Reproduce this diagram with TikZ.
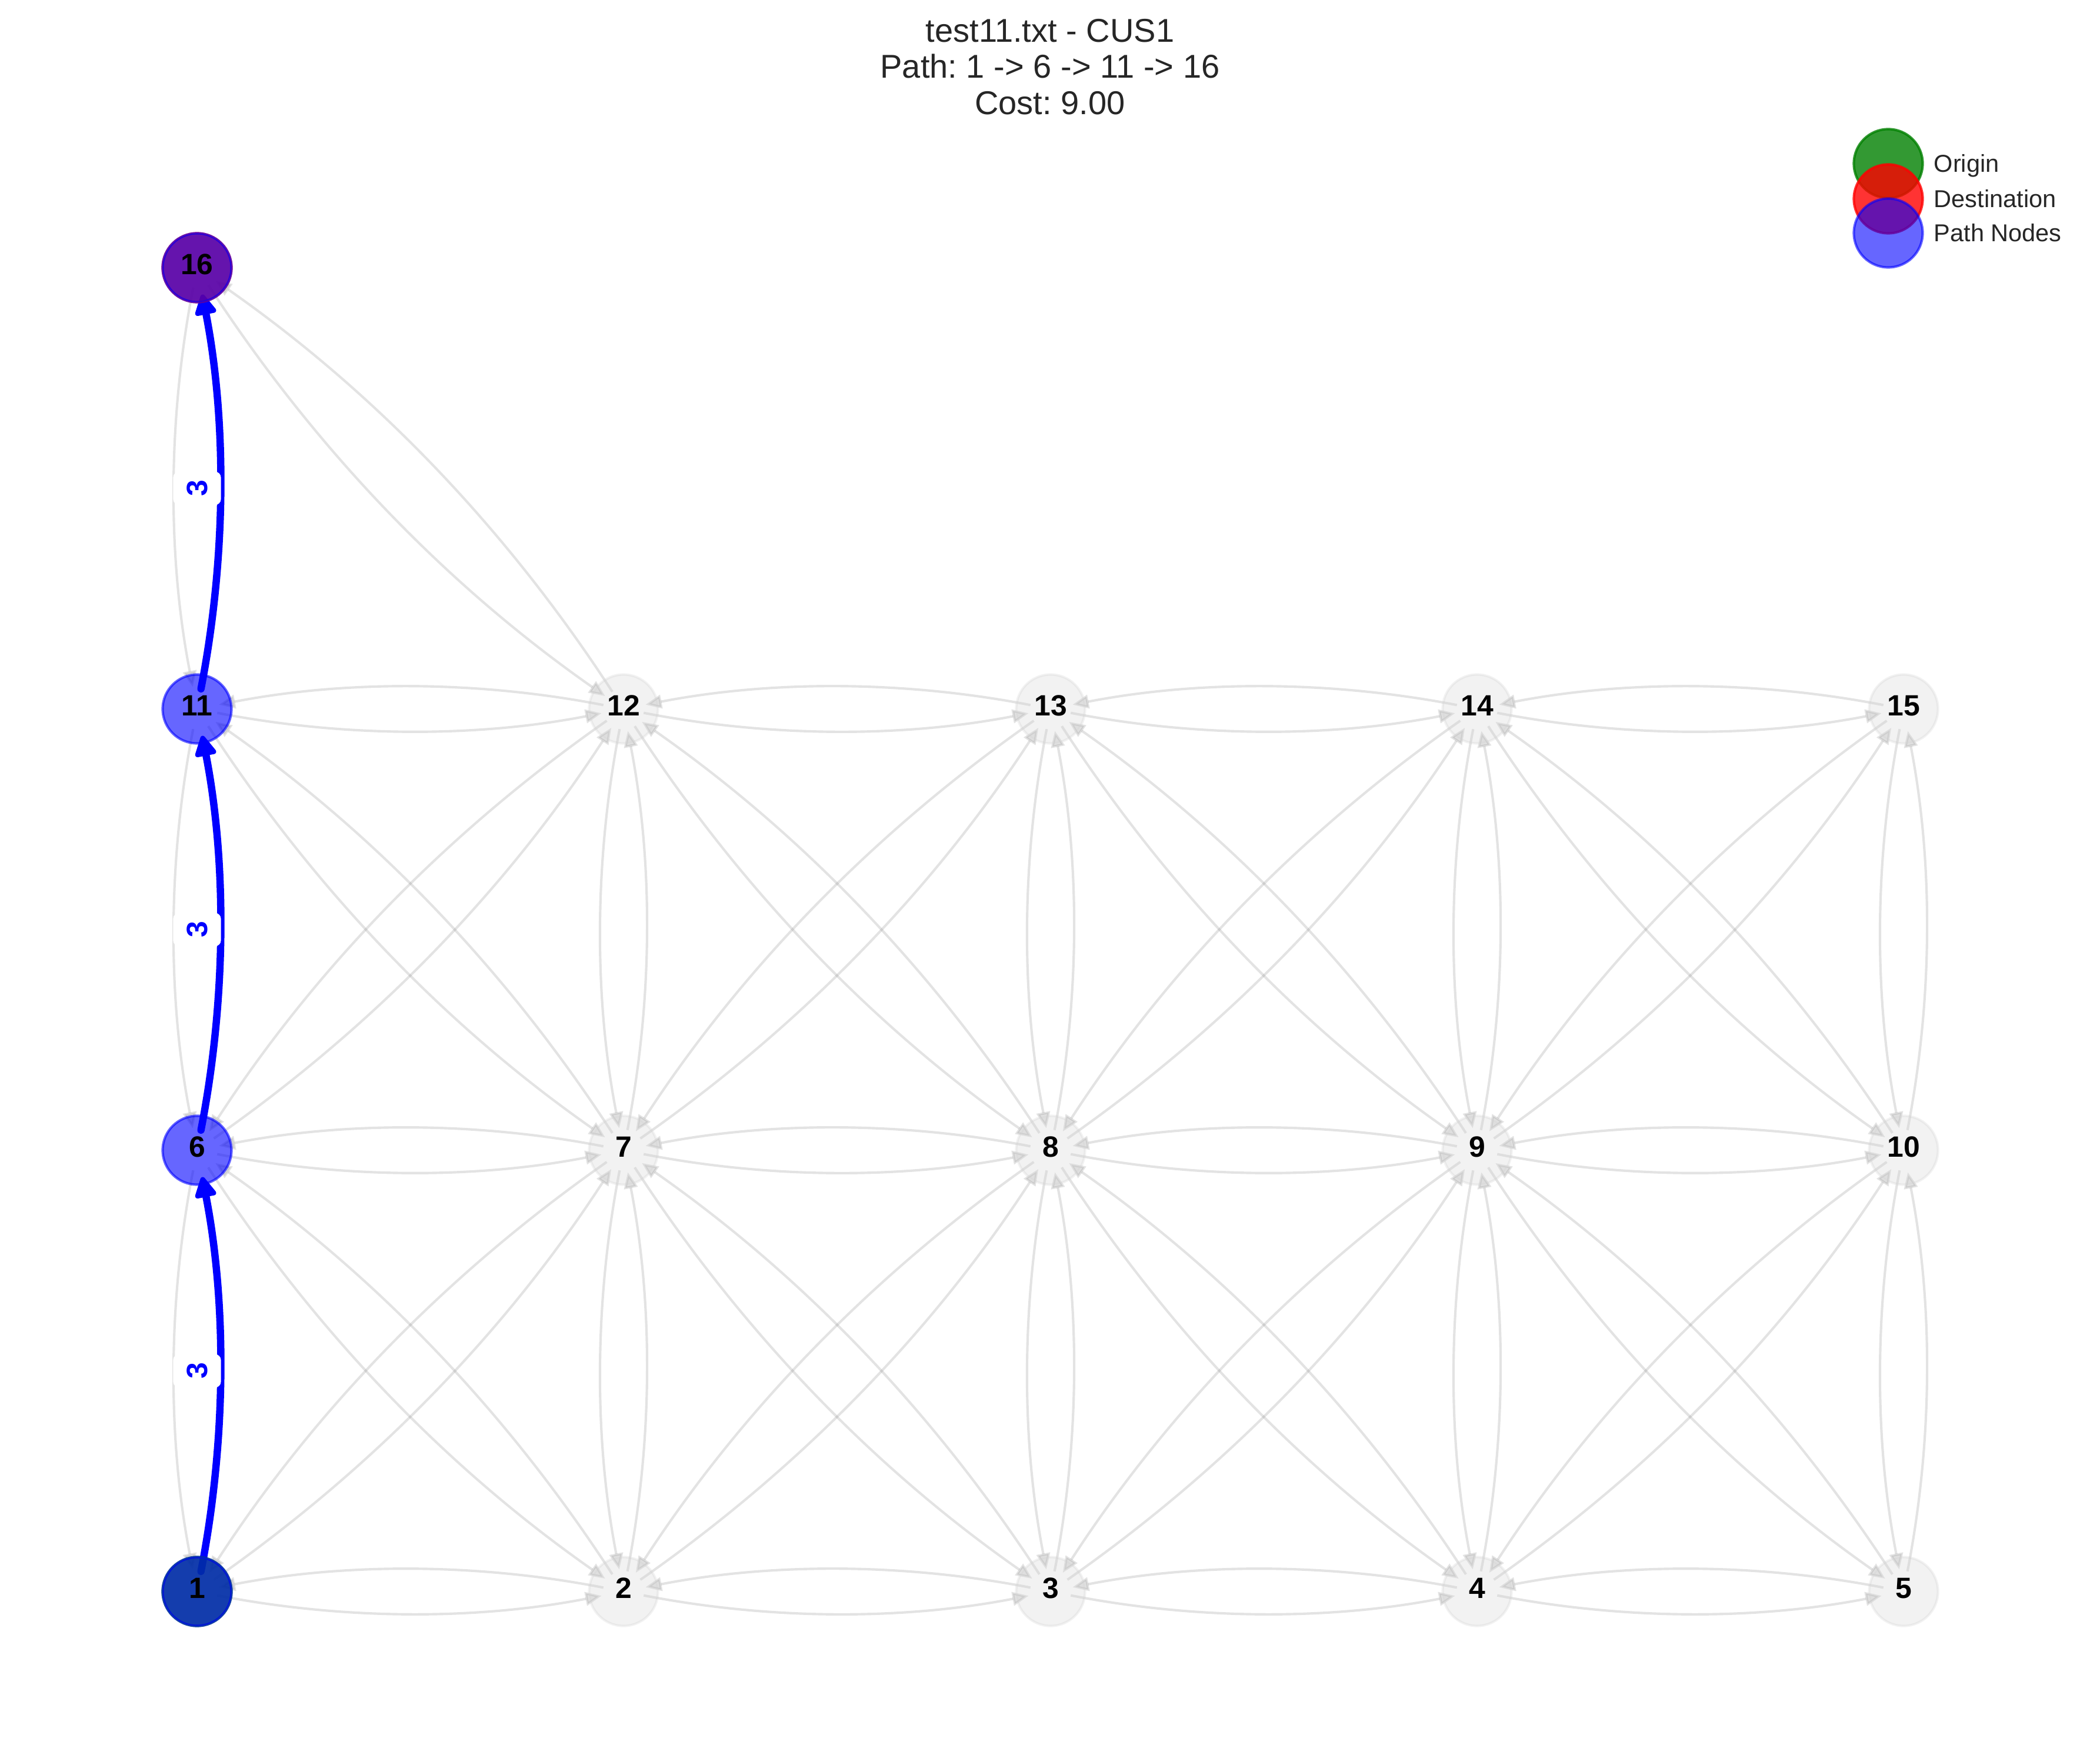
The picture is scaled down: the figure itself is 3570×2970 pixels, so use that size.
\documentclass[tikz,border=0pt]{standalone}
\usepackage{fontspec}
\setmainfont{Liberation Sans}
\usetikzlibrary{arrows.meta}
\pgfdeclarelayer{bg}
\pgfsetlayers{bg,main}
\definecolor{txt}{HTML}{262626}
\definecolor{mgreen}{RGB}{0,128,0}
\definecolor{lgray}{RGB}{211,211,211}
\frenchspacing
\begin{document}
\begin{tikzpicture}[x=0.2409pt,y=0.2409pt,
  vnode/.style={circle, minimum size=28.2pt, inner sep=0pt, line width=1pt,
    font=\fontsize{12}{14}\selectfont\bfseries, text=black, text depth=2.9pt, text opacity=1},
  graynode/.style={vnode, fill=lgray, draw=lgray, fill opacity=0.3, draw opacity=0.3},
  onode/.style={vnode, fill=mgreen, draw=mgreen, fill opacity=0.8, draw opacity=0.8},
  dnode/.style={vnode, fill=red, draw=red, fill opacity=0.8, draw opacity=0.8},
  pnode/.style={vnode, fill=blue, draw=blue, fill opacity=0.6, draw opacity=0.6},
  gedge/.style={draw=gray, opacity=0.22, line width=1pt,
    -{Triangle[length=6.6pt,width=5.6pt,line width=1pt]},
    shorten <=8.4pt, shorten >=9.2pt},
  pedge/.style={draw=blue, line width=3pt, line cap=round,
    -{Triangle[length=9.5pt,width=9.5pt,line width=2pt,round]},
    shorten <=8.4pt, shorten >=11.2pt},
  elabel/.style={rotate=90, fill=white, rounded corners=2.5pt, inner sep=0pt,
    minimum width=13.7pt, minimum height=19.6pt, text=blue,
    font=\fontsize{12}{14}\selectfont\bfseries},
  ttl/.style={anchor=base, text=txt, font=\fontsize{13.5}{15}\selectfont, inner sep=0pt},
  legtxt/.style={anchor=base west, text=txt, font=\fontsize{10}{12}\selectfont, inner sep=0pt},
  bendstyle/.style={bend right=11, looseness=0.9}
]
\useasboundingbox (0,0) rectangle (3570,2970);

% title
\node[ttl] (t1) at (1785,2898) {test11.txt - CUS1};
\node[ttl] (t2) at (1785,2837) {Path: 1 -> 6 -> 11 -> 16};
\node[ttl] (t3) at (1785,2775) {Cost: 9.00};

% origin / destination underlays
\node[onode] (o1) at (335,265) {};
\node[dnode] (d16) at (335,2515) {};

% graph nodes
\node[pnode] (n1) at (335,265) {1};
\node[graynode] (n2) at (1060,265) {2};
\node[graynode] (n3) at (1786,265) {3};
\node[graynode] (n4) at (2511,265) {4};
\node[graynode] (n5) at (3236,265) {5};
\node[pnode] (n6) at (335,1015) {6};
\node[graynode] (n7) at (1060,1015) {7};
\node[graynode] (n8) at (1786,1015) {8};
\node[graynode] (n9) at (2511,1015) {9};
\node[graynode] (n10) at (3236,1015) {10};
\node[pnode] (n11) at (335,1765) {11};
\node[graynode] (n12) at (1060,1765) {12};
\node[graynode] (n13) at (1786,1765) {13};
\node[graynode] (n14) at (2511,1765) {14};
\node[graynode] (n15) at (3236,1765) {15};
\node[pnode] (n16) at (335,2515) {16};

% edges
\begin{pgfonlayer}{bg}
\foreach \a/\b in {1/2,2/3,3/4,4/5,6/7,7/8,8/9,9/10,11/12,12/13,13/14,14/15,
  2/7,3/8,4/9,5/10,7/12,8/13,9/14,10/15,
  1/7,2/8,3/9,4/10,6/12,7/13,8/14,9/15,
  2/6,3/7,4/8,5/9,7/11,8/12,9/13,10/14,12/16}{
  \draw[gedge] (n\a.center) to[bendstyle] (n\b.center);
  \draw[gedge] (n\b.center) to[bendstyle] (n\a.center);
}
\foreach \a/\b in {1/6,6/11,11/16}{
  \draw[gedge] (n\b.center) to[bendstyle] (n\a.center);
}
\foreach \a/\b in {1/6,6/11,11/16}{
  \draw[pedge] (n\a.center) to[bendstyle] (n\b.center);
}
\end{pgfonlayer}

% edge labels
\node[elabel] (l1) at (335,640) {3};
\node[elabel] (l2) at (335,1390) {3};
\node[elabel] (l3) at (335,2140) {3};

% legend
\node[onode] (lg1) at (3210,2692) {};
\node[dnode] (lg2) at (3210,2632) {};
\node[pnode] (lg3) at (3210,2574) {};
\node[legtxt] (lt1) at (3287,2677) {Origin};
\node[legtxt] (lt2) at (3287,2617) {Destination};
\node[legtxt] (lt3) at (3287,2559) {Path Nodes};
\end{tikzpicture}
\end{document}
